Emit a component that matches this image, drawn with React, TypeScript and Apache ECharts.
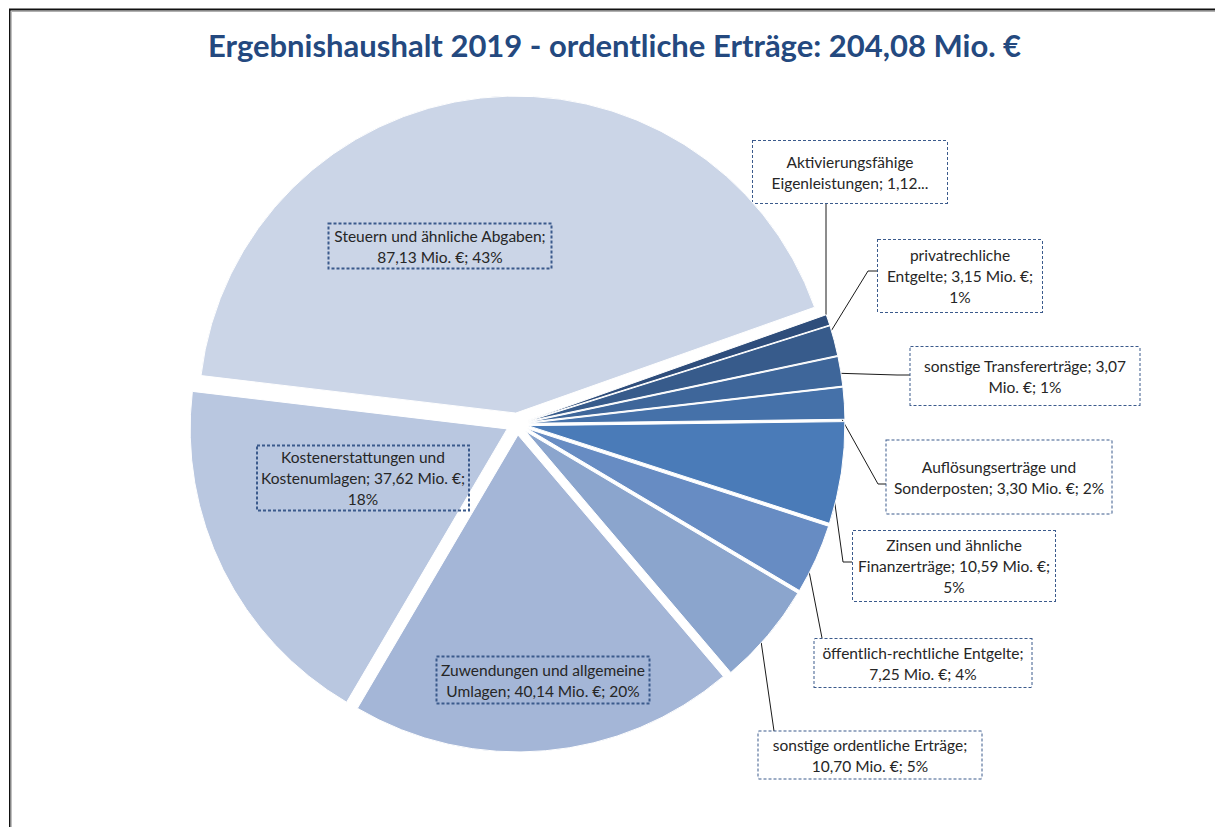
import React, { useEffect, useRef } from 'react';
import * as echarts from 'echarts';

// ---- data (clockwise from the first slice) ----
const categories = [
  'Aktivierungsfähige Eigenleistungen',
  'privatrechliche Entgelte',
  'sonstige Transfererträge',
  'Auflösungserträge und Sonderposten',
  'Zinsen und ähnliche Finanzerträge',
  'öffentlich-rechtliche Entgelte',
  'sonstige ordentliche Erträge',
  'Zuwendungen und allgemeine Umlagen',
  'Kostenerstattungen und Kostenumlagen',
  'Steuern und ähnliche Abgaben',
];
const values = [1.12, 3.15, 3.07, 3.3, 10.59, 7.25, 10.7, 40.14, 37.62, 87.13];
const titleText = 'Ergebnishaushalt 2019 - ordentliche Erträge: 204,08 Mio. €';
const unit = 'Mio. €';

// ---- styling / layout (not data) ----
const colors = [
  '#2e4d7b', '#375b8b', '#3e669a', '#4571a9', '#4a7bb8',
  '#678cc3', '#8ba5cd', '#a4b6d7', '#b9c7e0', '#cbd5e7',
];
// label boxes: centre x/y, box width/height, line breaks (after word n),
// inside?, truncated?, leader-line points on the box side
const labelBoxes = [
  { cx: 850, cy: 172, w: 196, h: 64, breaks: [1], inside: false, cut: true, line: [[826, 318], [826, 204]] },
  { cx: 960, cy: 276, w: 166, h: 74, breaks: [1, 5], inside: false, cut: false, line: [[868, 271], [877, 271]] },
  { cx: 1025, cy: 376, w: 231, h: 60, breaks: [3], inside: false, cut: false, line: [[897, 375], [910, 375]] },
  { cx: 999, cy: 477, w: 227, h: 75, breaks: [2], inside: false, cut: false, line: [[878, 484], [886, 484]] },
  { cx: 954, cy: 566, w: 204, h: 72, breaks: [3, 7], inside: false, cut: false, line: [[843, 562], [852, 562]] },
  { cx: 923, cy: 663, w: 219, h: 50, breaks: [2], inside: false, cut: false, line: [[822, 638]] },
  { cx: 870, cy: 755, w: 225, h: 49, breaks: [3], inside: false, cut: false, line: [[774, 731]] },
  { cx: 543, cy: 680, w: 215, h: 49, breaks: [3], inside: true, cut: false, line: [] },
  { cx: 363, cy: 478, w: 214, h: 67, breaks: [2, 6], inside: true, cut: false, line: [] },
  { cx: 440, cy: 246, w: 225, h: 47, breaks: [4], inside: true, cut: false, line: [] },
];

const fmtNum = (v: number) => v.toFixed(2).replace('.', ',');
const breakWords = (s: string, breaks: number[]) => {
  const words = s.split(' ');
  return words
    .map((w, i) => w + (i === words.length - 1 ? '' : breaks.includes(i + 1) ? '\n' : ' '))
    .join('');
};
const labelText = (p: any) => {
  const b = labelBoxes[p.dataIndex];
  const full = b.cut
    ? `${p.name}; ${fmtNum(p.value)}...`
    : `${p.name}; ${fmtNum(p.value)} ${unit}; ${p.percent}%`;
  return breakWords(full, b.breaks);
};

const PIE_CENTER = [517, 424];
const PIE_RADIUS = 317;
const START_ANGLE = 19.5;

export default function App() {
  const ref = useRef<HTMLDivElement>(null);

  useEffect(() => {
    if (!ref.current) return;
    const chart = echarts.init(ref.current, undefined, { renderer: 'svg' });

    const base = {
      type: 'pie',
      center: PIE_CENTER,
      radius: PIE_RADIUS,
      startAngle: START_ANGLE,
      clockwise: true,
      percentPrecision: 0,
      avoidLabelOverlap: false,
      silent: true,
      emphasis: { disabled: true },
    };

    const labelStyle = {
      show: true,
      fontFamily: 'Lato',
      fontSize: 15.5,
      color: '#262626',
      lineHeight: 21,
      align: 'center',
      overflow: 'none',
      borderColor: '#3b5a8c',
      borderWidth: 1,
      borderType: [3, 2],
      formatter: labelText,
    };

    // visible, exploded slices
    const sliceData = values.map((v, i) => ({
      name: categories[i],
      value: v,
      selected: true,
      itemStyle: { color: colors[i] },
    }));

    // label carriers (transparent slices, not exploded)
    const labelData = (inside: boolean) =>
      values.map((v, i) => {
        const b = labelBoxes[i];
        const show = b.inside === inside;
        return {
          name: categories[i],
          value: v,
          itemStyle: { color: 'rgba(0,0,0,0)', borderWidth: 0 },
          label: {
            show,
            width: b.w - 2,
            height: b.h - 2,
            padding: 0,
            backgroundColor: b.inside ? 'transparent' : '#ffffff',
          },
          labelLine: { show: show && !inside },
        };
      });

    const layoutFn = (params: any) => {
      const b = labelBoxes[params.dataIndex];
      const out: any = { x: b.cx, y: b.cy, align: 'center', verticalAlign: 'middle' };
      if (!b.inside && params.labelLinePoints && params.labelLinePoints.length) {
        out.labelLinePoints = [params.labelLinePoints[0], ...b.line];
      }
      return out;
    };

    chart.setOption({
      animation: false,
      backgroundColor: '#ffffff',
      title: {
        text: titleText,
        left: 208,
        top: 29,
        padding: 0,
        textStyle: {
          fontFamily: 'Lato',
          fontWeight: 'bold',
          fontSize: 31,
          color: '#24497f',
        },
      },
      graphic: [
        { type: 'line', silent: true, shape: { x1: 9, y1: 9.5, x2: 1215, y2: 9.5 }, style: { stroke: '#111', lineWidth: 2 } },
        { type: 'line', silent: true, shape: { x1: 11, y1: 11.5, x2: 1215, y2: 11.5 }, style: { stroke: '#b0b0b0', lineWidth: 1 } },
        { type: 'line', silent: true, shape: { x1: 9.75, y1: 9, x2: 9.75, y2: 827 }, style: { stroke: '#111', lineWidth: 1.5 } },
        { type: 'line', silent: true, shape: { x1: 11.5, y1: 11, x2: 11.5, y2: 827 }, style: { stroke: '#c0c0c0', lineWidth: 1 } },
      ],
      series: [
        {
          ...base,
          name: 'outer labels',
          z: 1,
          label: { ...labelStyle, position: 'outside' },
          labelLine: {
            show: true,
            length: 10,
            length2: 9,
            lineStyle: { color: '#1a1a1a', width: 1 },
          },
          labelLayout: layoutFn,
          data: labelData(false),
        },
        {
          ...base,
          name: 'slices',
          z: 2,
          selectedMode: 'multiple',
          selectedOffset: 11,
          itemStyle: { borderColor: '#ffffff', borderWidth: 1 },
          select: { itemStyle: { borderColor: '#ffffff', borderWidth: 1 } },
          label: { show: false },
          labelLine: { show: false },
          data: sliceData,
        },
        {
          ...base,
          name: 'inner labels',
          z: 3,
          label: { ...labelStyle, position: 'inside' },
          labelLine: { show: false },
          labelLayout: layoutFn,
          data: labelData(true),
        },
      ],
    });

    return () => chart.dispose();
  }, []);

  return (
    <div
      ref={ref}
      style={{ position: 'fixed', left: 0, top: 0, width: 1215, height: 827 }}
    />
  );
}
